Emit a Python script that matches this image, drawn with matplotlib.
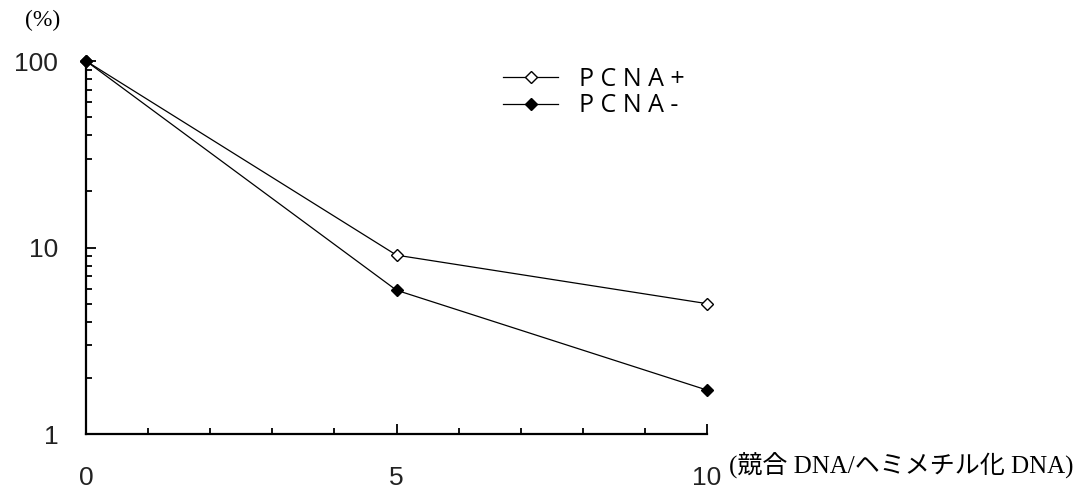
import matplotlib
matplotlib.use('Agg')
import matplotlib.pyplot as plt
from matplotlib.ticker import FixedLocator, LogLocator, NullFormatter

# data
ratio = [0, 5, 10]
pcna_plus = [100, 9.1, 5.0]
pcna_minus = [100, 5.9, 1.72]
x_ticks = [0, 5, 10]
y_ticks = [1, 10, 100]
y_tick_labels = ['1', '10', '100']

fig = plt.figure(figsize=(10.82, 4.91), dpi=100)
ax = fig.add_axes([86 / 1082, 57 / 491, 621 / 1082, 373 / 491])

ax.plot(ratio, pcna_plus, color='black', lw=0.9, marker='D', ms=6,
        mfc='white', mec='black', mew=1.0, clip_on=False, zorder=3,
        label='P C N A +')
ax.plot(ratio, pcna_minus, color='black', lw=0.9, marker='D', ms=6.5,
        mfc='black', mec='black', clip_on=False, zorder=3,
        label='P C N A -')

ax.set_yscale('log')
ax.set_xlim(0, 10)
ax.set_ylim(1, 100)

for side in ['top', 'right']:
    ax.spines[side].set_visible(False)
for side in ['left', 'bottom']:
    ax.spines[side].set_linewidth(1.6)

ax.xaxis.set_major_locator(FixedLocator(x_ticks))
ax.xaxis.set_minor_locator(FixedLocator(range(0, 11)))
ax.set_xticklabels([str(v) for v in x_ticks])
ax.yaxis.set_major_locator(FixedLocator(y_ticks))
ax.set_yticklabels(y_tick_labels)
ax.yaxis.set_minor_locator(LogLocator(base=10, subs=range(2, 10)))
ax.yaxis.set_minor_formatter(NullFormatter())

ax.tick_params(which='major', direction='in', length=7, width=1.3,
               labelsize=19, colors='black')
ax.tick_params(which='minor', direction='in', length=4, width=1.3)
ax.tick_params(axis='x', which='major', pad=23)
ax.tick_params(axis='y', which='major', pad=20)
for lbl in ax.get_xticklabels() + ax.get_yticklabels():
    lbl.set_family('Liberation Sans')
    lbl.set_color('#222222')

fig.text(25 / 1082, 1 - 20 / 491, '(%)', family='Liberation Serif',
         fontsize=17, va='center', ha='left')
fig.text(729 / 1082, 1 - 466 / 491, '(競合 DNA/ヘミメチル化 DNA)',
         family=['Liberation Serif', 'Noto Sans CJK JP'],
         fontsize=18, va='center', ha='left')

leg = ax.legend(loc='upper left', bbox_to_anchor=(503 / 1082, 1 - 67 / 491),
                bbox_transform=fig.transFigure, frameon=False,
                borderpad=0, borderaxespad=0, handlelength=2.2,
                handletextpad=0.85, labelspacing=0.05,
                prop={'family': 'Open Sans', 'size': 18})

fig.savefig('out.png', dpi=100)
